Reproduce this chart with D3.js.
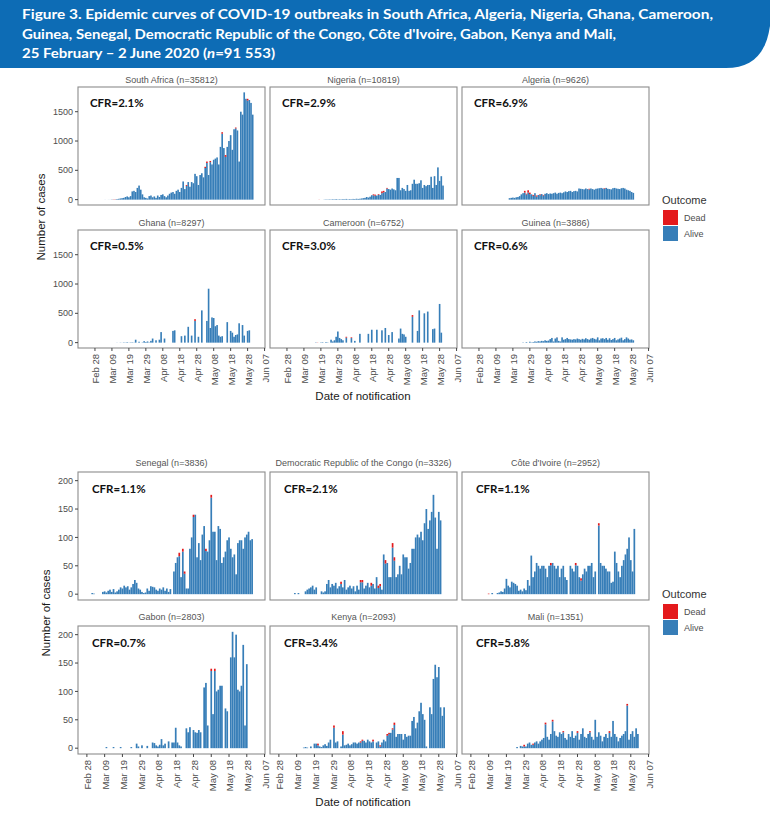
<!DOCTYPE html>
<html>
<head>
<meta charset="utf-8">
<script src="https://cdn.jsdelivr.net/npm/d3@7"></script>
<style>
  body { margin: 0; background: #fff; }
  svg { display: block; }
</style>
</head>
<body>
<svg id="chart" width="770" height="823"></svg>
<script>
// ---- chart values ----
var upperCountries = ["South Africa", "Nigeria", "Algeria", "Ghana", "Cameroon", "Guinea"];
var upperTotals = [35812, 10819, 9626, 8297, 6752, 3886];
var upperCfr = ["2.1%", "2.9%", "6.9%", "0.5%", "3.0%", "0.6%"];
var lowerCountries = ["Senegal", "Democratic Republic of the Congo", "Côte d'Ivoire", "Gabon", "Kenya", "Mali"];
var lowerTotals = [3836, 3326, 2952, 2803, 2093, 1351];
var lowerCfr = ["1.1%", "2.1%", "1.1%", "0.7%", "3.4%", "5.8%"];
var outcomes = ["Dead", "Alive"];
var tickDates = ["2020-02-28", "2020-03-09", "2020-03-19", "2020-03-29", "2020-04-08", "2020-04-18",
                 "2020-04-28", "2020-05-08", "2020-05-18", "2020-05-28", "2020-06-07"];
var upperTicks = [0, 500, 1000, 1500];
var lowerTicks = [0, 50, 100, 150, 200];

// daily notified cases, one value per day from the start date; deaths as [date, count]
var southAfricaStart = "2020-03-05";
var southAfricaCases = [1,0,1,1,4,4,6,10,14,20,25,30,45,55,40,60,140,150,130,200,240,170,90,40,30,20,60,
  70,40,55,30,70,45,80,90,60,40,70,100,120,130,100,150,170,130,200,310,180,250,300,220,300,280,440,400,250,420,
  450,380,560,650,420,660,600,680,700,720,600,900,1150,880,760,900,1000,1100,850,1200,1230,1180,650,1500,1450,1830,1720,1720,1700,1650,1450];
var southAfricaDeaths = [["2020-03-10",4],["2020-03-11",3],["2020-04-22",15],["2020-05-03",20],["2020-05-04",25],
  ["2020-05-06",20],["2020-05-13",25],["2020-05-15",30],["2020-05-21",15],["2020-05-28",30]];

var nigeriaStart = "2020-03-18";
var nigeriaCases = [2,0,0,3,5,4,6,5,8,6,10,5,8,6,
  10,8,12,6,10,8,12,10,15,12,15,20,25,30,45,35,50,75,90,85,70,95,80,140,150,130,200,180,170,190,
  175,160,370,370,160,200,180,150,250,150,160,270,340,270,270,280,330,200,250,230,250,250,390,200,400,250,550,320,400,240];
var nigeriaDeaths = [["2020-03-18",2],["2020-04-19",15],["2020-04-20",18],["2020-04-22",12],["2020-04-24",30],
  ["2020-04-25",25],["2020-04-27",12]];

var algeriaStart = "2020-03-17";
var algeriaCases = [25,30,35,30,40,45,60,90,110,150,100,160,120,90,80,
  110,70,80,90,95,80,100,110,95,105,100,110,120,100,115,120,110,125,140,130,145,150,130,145,150,140,190,185,180,175,
  190,180,185,190,180,170,185,190,195,200,190,195,200,185,180,175,195,200,190,185,180,195,200,190,170,160,150,130,115];
var algeriaDeaths = [["2020-03-26",30],["2020-03-27",12],["2020-03-28",40],["2020-03-29",25],["2020-03-31",15],
  ["2020-04-02",18],["2020-04-04",12],["2020-04-06",10],["2020-05-03",10],["2020-05-12",10]];

var ghanaStart = "2020-03-12";
var ghanaCases = [2,0,3,1,5,3,8,2,5,6,3,50,0,15,0,5,25,10,20,5,
  30,70,0,40,0,50,180,0,70,0,0,0,0,200,210,0,0,0,110,0,120,0,270,0,120,0,400,0,100,0,
  550,0,0,370,920,250,430,420,280,300,120,100,110,0,0,350,0,200,170,100,130,140,330,0,300,120,0,200,210];
var ghanaDeaths = [["2020-04-27",30]];

var cameroonStart = "2020-03-16";
var cameroonCases = [5,3,0,5,8,0,10,5,0,50,20,40,100,190,80,60,
  40,0,100,0,0,90,0,30,0,0,150,0,0,0,0,150,0,220,0,0,220,0,0,210,0,250,0,130,0,180,
  0,0,0,70,240,150,140,100,0,0,0,470,0,0,200,550,0,0,500,0,530,0,0,230,240,0,0,660,170];
var cameroonDeaths = [["2020-03-17",3],["2020-04-03",15],["2020-04-06",12],["2020-05-12",30]];

var guineaStart = "2020-03-25";
var guineaCases = [5,0,10,0,15,5,10,
  20,15,25,20,30,25,40,30,35,60,80,20,70,90,30,20,90,50,60,80,60,55,50,60,55,70,60,50,65,55,
  75,60,50,70,80,65,55,90,40,70,75,60,80,50,75,45,60,80,40,55,70,85,40,60,90,70,50,55,40];
var guineaDeaths = [["2020-04-14",2]];

var senegalStart = "2020-03-02";
var senegalCases = [2,1,0,0,0,0,4,5,3,6,8,4,9,3,5,8,12,10,15,12,14,8,12,18,25,20,10,8,4,2,
  3,10,6,14,13,12,8,6,10,8,12,6,10,4,9,0,40,55,65,73,30,80,40,10,10,80,100,140,140,65,
  90,60,105,120,80,75,95,175,110,110,60,120,115,55,65,75,95,100,80,65,70,35,90,95,95,80,100,105,110,95,97];
var senegalDeaths = [["2020-04-20",6],["2020-04-22",5],["2020-04-23",4],["2020-04-28",4],["2020-05-05",4],["2020-05-08",5]];

var drcStart = "2020-03-08";
var drcCases = [2,0,2,0,0,0,5,8,10,12,15,8,12,0,0,5,3,5,18,25,12,18,15,20,
  10,14,22,12,25,8,12,15,10,14,5,15,8,25,25,10,15,20,12,20,18,10,30,15,18,8,70,60,55,30,
  30,90,65,30,35,50,35,70,65,65,45,55,80,80,100,105,100,110,95,125,150,115,130,145,175,135,80,145,130];
var drcDeaths = [["2020-04-03",4],["2020-04-14",4],["2020-04-15",4],["2020-04-20",5],["2020-04-24",4],
  ["2020-04-25",4],["2020-04-28",6],["2020-05-02",8],["2020-05-03",6]];

var coteDivoireStart = "2020-03-09";
var coteDivoireCases = [1,0,2,0,0,2,3,5,4,10,27,15,12,22,20,18,15,6,8,5,10,7,25,
  15,68,30,40,55,50,45,50,50,45,30,50,55,55,50,45,50,30,45,50,30,25,0,50,45,40,55,50,30,28,
  35,45,40,50,50,55,30,40,0,125,55,50,50,45,40,40,20,22,75,55,40,30,50,60,70,80,100,60,40,115];
var coteDivoireDeaths = [["2020-03-09",1],["2020-04-13",4],["2020-04-27",4],["2020-04-30",4],["2020-05-10",4]];

var gabonStart = "2020-03-10";
var gabonCases = [2,0,0,0,2,0,0,0,2,0,0,0,0,0,2,0,0,8,3,0,5,0,
  0,4,0,0,10,9,5,3,6,16,5,8,0,12,0,10,10,36,10,5,3,0,0,35,28,37,0,32,28,27,
  32,28,0,107,115,40,0,140,60,140,100,103,110,110,0,70,65,0,160,205,160,200,103,100,110,182,40,148];
var gabonDeaths = [["2020-05-08",4],["2020-05-10",4]];

var kenyaStart = "2020-03-13";
var kenyaCases = [1,2,1,0,3,0,8,8,8,3,2,5,7,4,10,15,0,40,10,
  12,0,3,30,5,6,8,5,7,10,10,8,10,12,15,13,10,15,12,10,15,0,10,12,5,10,15,12,25,27,
  27,35,45,20,25,25,25,15,25,20,22,22,48,55,35,45,65,80,60,50,3,0,72,60,122,147,125,143,72,57,72];
var kenyaDeaths = [["2020-03-21",3],["2020-03-30",4],["2020-04-04",6],["2020-04-14",2],["2020-04-15",2],
  ["2020-04-21",3],["2020-04-25",2],["2020-04-29",3],["2020-04-30",2],["2020-05-02",2],["2020-05-03",4]];

var maliStart = "2020-03-25";
var maliCases = [2,0,4,3,6,3,8,
  10,6,8,10,12,8,12,15,18,45,20,15,25,50,30,22,20,28,25,30,18,15,25,20,30,18,22,30,15,25,
  35,20,18,25,30,20,15,50,20,28,22,12,20,25,18,30,20,48,25,20,12,18,22,25,30,78,15,25,30,20,35,25];
var maliDeaths = [["2020-03-29",3],["2020-04-03",2],["2020-04-10",3],["2020-04-14",3],["2020-04-20",2],
  ["2020-04-28",3],["2020-05-05",2],["2020-05-16",3],["2020-05-26",3]];

// ---- helpers ----
var parseDay = d3.utcParse("%Y-%m-%d");
var keyDay = d3.utcFormat("%Y-%m-%d");
var tickFormat = d3.utcFormat("%b %d");
var colors = {Dead: "#e41a1c", Alive: "#377eb8"};
var labelFont = "'Liberation Sans', Arial, sans-serif";
var boldFont = "Lato, 'Open Sans', sans-serif";

function buildDays(start, cases, deaths) {
    var t0 = parseDay(start);
    var deadByDay = new Map(deaths);
    return cases.map(function (v, i) {
        var date = d3.utcDay.offset(t0, i);
        var dead = Math.min(deadByDay.get(keyDay(date)) || 0, v);
        return {date: date, alive: v - dead, dead: dead};
    });
}

var svg = d3.select("#chart");

// header banner
svg.append("path")
    .attr("d", "M0,0 H770 V26 C766,54 752,68 726,68 H0 Z")
    .attr("fill", "#0d6cb5");

var header = svg.append("g")
    .attr("fill", "#fff")
    .style("font-family", boldFont)
    .style("font-weight", "bold")
    .style("font-size", "14px");

header.append("text").attr("x", 22).attr("y", 19)
    .attr("textLength", 691).attr("lengthAdjust", "spacingAndGlyphs")
    .text("Figure 3. Epidemic curves of COVID-19 outbreaks in South Africa, Algeria, Nigeria, Ghana, Cameroon,");
header.append("text").attr("x", 22).attr("y", 39)
    .attr("textLength", 594).attr("lengthAdjust", "spacingAndGlyphs")
    .text("Guinea, Senegal, Democratic Republic of the Congo, Côte d'Ivoire, Gabon, Kenya and Mali,");
var line3 = header.append("text").attr("x", 22).attr("y", 58)
    .attr("textLength", 253).attr("lengthAdjust", "spacingAndGlyphs");
line3.append("tspan").text("25 February \u2013 2 June 2020 (");
line3.append("tspan").style("font-style", "italic").text("n");
line3.append("tspan").text("=91 553)");

// ---- one block of six panels ----
function drawSection(cfg) {
    var panels = cfg.names.map(function (name, i) {
        return {name: name, total: cfg.totals[i], cfr: cfg.cfr[i], days: buildDays.apply(null, cfg.series[i])};
    });

    var yMax = d3.max(panels, function (p) { return d3.max(p.days, function (d) { return d.alive + d.dead; }); });
    var panelW = 187;
    var colX = [78, 270, 462];

    var x = d3.scaleUtc()
        .domain([parseDay(cfg.xStart), d3.utcHour.offset(parseDay("2020-06-07"), 6)])
        .range([0, panelW]);
    var y = d3.scaleLinear()
        .domain([-0.05 * yMax, 1.05 * yMax])
        .range([cfg.panelH, 0]);
    var dayW = x(parseDay("2020-03-02")) - x(parseDay("2020-03-01"));
    var barW = dayW * 0.96;

    panels.forEach(function (p, i) {
        var col = i % 3, row = Math.floor(i / 3);
        var g = svg.append("g")
            .attr("transform", "translate(" + colX[col] + "," + cfg.rowTop[row] + ")");

        // strip title
        g.append("text")
            .attr("x", panelW / 2).attr("y", cfg.stripDy)
            .attr("text-anchor", "middle")
            .style("font-family", labelFont).style("font-size", "9px").attr("fill", "#555")
            .text(p.name + " (n=" + p.total + ")");

        // stacked bars: alive at the bottom, dead on top
        var stack = d3.stack().keys(["alive", "dead"])(p.days);
        g.selectAll("g.layer")
            .data(stack)
            .enter().append("g")
            .attr("fill", function (s) { return s.key === "dead" ? colors.Dead : colors.Alive; })
            .selectAll("rect")
            .data(function (s) { return s.filter(function (d) { return d[1] > d[0]; }); })
            .enter().append("rect")
            .attr("x", function (d) { return x(d.data.date) - barW / 2; })
            .attr("width", barW)
            .attr("y", function (d) { return y(d[1]); })
            .attr("height", function (d) { return y(d[0]) - y(d[1]); });

        // border
        g.append("rect")
            .attr("width", panelW).attr("height", cfg.panelH)
            .attr("fill", "none").attr("stroke", "#8c8c8c").attr("stroke-width", 1.1);

        // CFR label
        g.append("text")
            .attr("x", cfg.cfrDx).attr("y", cfg.cfrDy)
            .style("font-family", boldFont).style("font-weight", "bold").style("font-size", "11.5px")
            .attr("fill", "#111")
            .text("CFR=" + p.cfr);

        // y axis on the left column
        if (col === 0) {
            var ya = g.append("g");
            ya.selectAll("line").data(cfg.yTicks).enter().append("line")
                .attr("x1", -3).attr("x2", 0)
                .attr("y1", function (v) { return y(v); }).attr("y2", function (v) { return y(v); })
                .attr("stroke", "#444");
            ya.selectAll("text").data(cfg.yTicks).enter().append("text")
                .attr("x", -5).attr("y", function (v) { return y(v); }).attr("dy", "0.35em")
                .attr("text-anchor", "end")
                .style("font-family", labelFont).style("font-size", "9px").attr("fill", "#4d4d4d")
                .text(function (v) { return v; });
        }

        // x axis on the bottom row
        if (row === 1) {
            var ticks = tickDates.map(parseDay).filter(function (t) {
                return x(t) >= 0 && x(t) <= panelW;
            });
            var xa = g.append("g").attr("transform", "translate(0," + cfg.panelH + ")");
            xa.selectAll("line").data(ticks).enter().append("line")
                .attr("x1", function (t) { return x(t); }).attr("x2", function (t) { return x(t); })
                .attr("y1", 0).attr("y2", 3)
                .attr("stroke", "#444");
            xa.selectAll("text").data(ticks).enter().append("text")
                .attr("transform", function (t) { return "translate(" + (x(t) + 1) + ",6) rotate(-90)"; })
                .attr("dy", "0.35em")
                .attr("text-anchor", "end")
                .style("font-family", labelFont).style("font-size", "9.5px").attr("fill", "#4d4d4d")
                .text(function (t) { return tickFormat(t); });
        }
    });

    // axis titles
    svg.append("text")
        .attr("transform", "translate(" + cfg.yTitleX + "," + cfg.yTitleY + ") rotate(-90)")
        .attr("text-anchor", "middle")
        .style("font-family", labelFont).style("font-size", "11.5px").attr("fill", "#1a1a1a")
        .text("Number of cases");
    svg.append("text")
        .attr("x", 363).attr("y", cfg.xTitleY)
        .attr("text-anchor", "middle")
        .style("font-family", labelFont).style("font-size", "11.5px").attr("fill", "#1a1a1a")
        .text("Date of notification");

    // legend
    var lg = svg.append("g").attr("transform", "translate(662," + cfg.legendY + ")");
    lg.append("text")
        .attr("x", 0).attr("y", 0)
        .style("font-family", labelFont).style("font-size", "11px").attr("fill", "#333")
        .text("Outcome");
    outcomes.forEach(function (o, k) {
        lg.append("rect")
            .attr("x", 1).attr("y", 6 + k * 16)
            .attr("width", 15).attr("height", 15)
            .attr("fill", colors[o]);
        lg.append("text")
            .attr("x", 22).attr("y", 6 + k * 16 + 7.5).attr("dy", "0.35em")
            .style("font-family", labelFont).style("font-size", "9px").attr("fill", "#4d4d4d")
            .text(o);
    });
}

drawSection({
    names: upperCountries, totals: upperTotals, cfr: upperCfr,
    series: [
        [southAfricaStart, southAfricaCases, southAfricaDeaths],
        [nigeriaStart, nigeriaCases, nigeriaDeaths],
        [algeriaStart, algeriaCases, algeriaDeaths],
        [ghanaStart, ghanaCases, ghanaDeaths],
        [cameroonStart, cameroonCases, cameroonDeaths],
        [guineaStart, guineaCases, guineaDeaths]
    ],
    xStart: "2020-02-18",
    rowTop: [87, 230], panelH: 118, stripDy: -4,
    cfrDx: 12, cfrDy: 20,
    yTicks: upperTicks,
    yTitleX: 45, yTitleY: 217, xTitleY: 400, legendY: 204
});

drawSection({
    names: lowerCountries, totals: lowerTotals, cfr: lowerCfr,
    series: [
        [senegalStart, senegalCases, senegalDeaths],
        [drcStart, drcCases, drcDeaths],
        [coteDivoireStart, coteDivoireCases, coteDivoireDeaths],
        [gabonStart, gabonCases, gabonDeaths],
        [kenyaStart, kenyaCases, kenyaDeaths],
        [maliStart, maliCases, maliDeaths]
    ],
    xStart: "2020-02-23",
    rowTop: [472, 626], panelH: 128, stripDy: -6,
    cfrDx: 14, cfrDy: 21,
    yTicks: lowerTicks,
    yTitleX: 50, yTitleY: 613, xTitleY: 806, legendY: 598
});
</script>
</body>
</html>
